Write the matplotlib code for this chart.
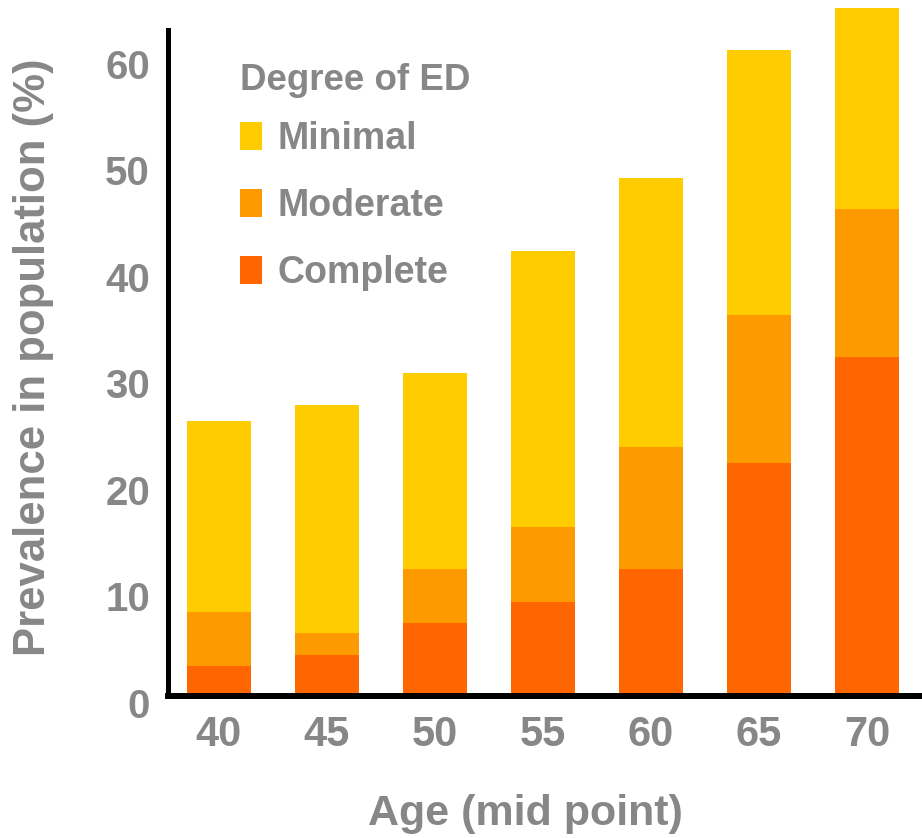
import matplotlib.pyplot as plt
import matplotlib.transforms as mtransforms
import numpy as np

# Data (segment heights, % of population)
ages = ["40", "45", "50", "55", "60", "65", "70"]
complete = [2.8, 3.85, 6.85, 8.8, 11.9, 21.9, 31.8]
moderate = [5.1, 2.05, 5.05, 7.1, 11.5, 13.9, 13.9]
minimal = [17.9, 21.4, 18.4, 25.9, 25.2, 24.9, 18.9]
yticks = [0, 10, 20, 30, 40, 50, 60]

GREY = "#878787"
plt.rcParams['font.family'] = ['Liberation Sans', 'DejaVu Sans']
plt.rcParams['font.weight'] = 'bold'

fig = plt.figure(figsize=(9.22, 8.38), dpi=100)
ax = fig.add_axes([168/922, (838-696)/838, 754/922, 688/838])

x = np.arange(len(ages))
w = 0.593
c_bot = np.array(complete)
m_bot = c_bot + np.array(moderate)
ax.bar(x, complete, w, color="#FF6600", label="Complete", zorder=2)
ax.bar(x, moderate, w, bottom=c_bot, color="#FD9A00", label="Moderate", zorder=2)
ax.bar(x, minimal, w, bottom=m_bot, color="#FFCC00", label="Minimal", zorder=2)

ax.set_xlim(-0.472, 6.509)
ax.set_ylim(0, 64.6)

for s in ["top", "right"]:
    ax.spines[s].set_visible(False)
ax.spines["left"].set_linewidth(3.6)
ax.spines["bottom"].set_linewidth(4.3)
ax.spines["left"].set_bounds(0, 62.5)
ax.spines["bottom"].set_zorder(3)

ax.set_xticks(x)
ax.set_xticklabels(ages)
ax.set_yticks(yticks)
ax.tick_params(axis="x", length=0, pad=14, labelsize=30, labelcolor=GREY)
ax.tick_params(axis="y", length=0, pad=13, labelsize=29, labelcolor=GREY)
shift = mtransforms.ScaledTranslation(0, -7/100, fig.dpi_scale_trans)
for lab in ax.get_yticklabels():
    lab.set_transform(lab.get_transform() + shift)

ax.set_xlabel("Age (mid point)", fontsize=31, color=GREY, fontweight="bold")
ax.xaxis.set_label_coords(0.4735, -0.171)
ax.xaxis.label.set_va("center")
ax.set_ylabel("Prevalence in population (%)", fontsize=31.5, color=GREY, fontweight="bold")
ax.yaxis.set_label_coords(-0.178, 0.493)
ax.yaxis.label.set_va("center")

handles, labels = ax.get_legend_handles_labels()
leg = ax.legend(handles[::-1], labels[::-1], title="Degree of ED", loc="upper left",
                bbox_to_anchor=(0.071, 0.947), frameon=False, fontsize=27,
                title_fontsize=26.5, handlelength=0.59, handleheight=0.77,
                handletextpad=0.40, labelspacing=0.83, borderpad=0, alignment="left")
leg._legend_box.sep = 16.5  # tighter gap between title and entries
leg.get_title().set_color(GREY)
leg.get_title().set_fontweight("bold")
for t in leg.get_texts():
    t.set_color(GREY)

fig.savefig("out.png", dpi=100)
